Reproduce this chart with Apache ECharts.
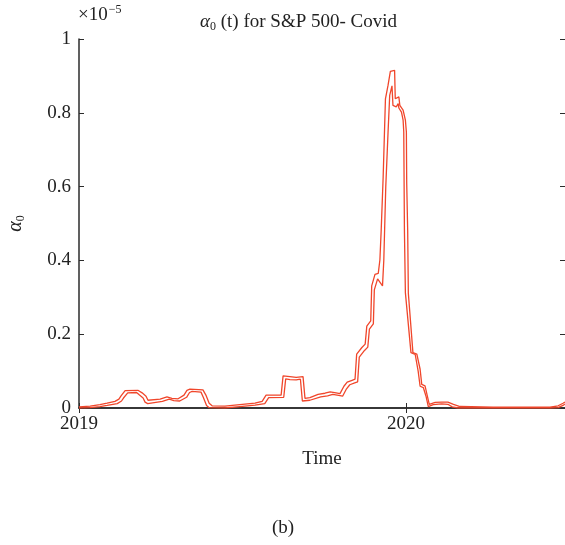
<!DOCTYPE html>
<html><head><meta charset="utf-8">
<script src="https://cdn.jsdelivr.net/npm/echarts@6/dist/echarts.min.js"></script>
<style>html,body{margin:0;padding:0;background:#fff}#c{width:565px;height:545px}</style>
</head><body><div id="c"></div>
<script>
// Outer trace (decimal year, value in units of 1e-5)
const xA = [2019.000, 2019.034, 2019.064, 2019.086, 2019.110, 2019.122, 2019.128, 2019.141, 2019.180, 2019.193, 2019.205, 2019.211, 2019.217, 2019.248, 2019.269, 2019.284, 2019.303, 2019.321, 2019.330, 2019.339, 2019.379, 2019.388, 2019.398, 2019.407, 2019.446, 2019.492, 2019.538, 2019.560, 2019.572, 2019.618, 2019.624, 2019.645, 2019.664, 2019.685, 2019.691, 2019.706, 2019.731, 2019.752, 2019.768, 2019.786, 2019.798, 2019.810, 2019.820, 2019.835, 2019.844, 2019.849, 2019.865, 2019.875, 2019.880, 2019.892, 2019.895, 2019.905, 2019.915, 2019.920, 2019.924, 2019.930, 2019.937, 2019.945, 2019.952, 2019.965, 2019.967, 2019.978, 2019.981, 2019.991, 2019.998, 2020.001, 2020.002, 2020.005, 2020.007, 2020.021, 2020.033, 2020.043, 2020.048, 2020.058, 2020.065, 2020.071, 2020.089, 2020.109, 2020.128, 2020.145, 2020.165, 2020.266, 2020.318, 2020.369, 2020.440, 2020.465, 2020.480, 2020.486];
const yA = [0.003, 0.005, 0.009, 0.013, 0.018, 0.024, 0.032, 0.047, 0.048, 0.041, 0.032, 0.021, 0.018, 0.024, 0.030, 0.026, 0.025, 0.035, 0.048, 0.051, 0.049, 0.035, 0.013, 0.006, 0.005, 0.009, 0.013, 0.018, 0.035, 0.035, 0.087, 0.085, 0.083, 0.085, 0.026, 0.028, 0.037, 0.040, 0.044, 0.041, 0.039, 0.059, 0.070, 0.075, 0.078, 0.146, 0.164, 0.173, 0.222, 0.236, 0.331, 0.362, 0.365, 0.401, 0.482, 0.626, 0.838, 0.875, 0.912, 0.915, 0.838, 0.843, 0.820, 0.807, 0.780, 0.748, 0.610, 0.482, 0.311, 0.150, 0.146, 0.105, 0.064, 0.060, 0.033, 0.010, 0.015, 0.016, 0.016, 0.010, 0.004, 0.002, 0.002, 0.002, 0.002, 0.006, 0.013, 0.016];
// Inner trace
const xB = [2019.000, 2019.034, 2019.064, 2019.086, 2019.117, 2019.130, 2019.136, 2019.149, 2019.176, 2019.185, 2019.196, 2019.202, 2019.210, 2019.255, 2019.276, 2019.290, 2019.308, 2019.329, 2019.338, 2019.346, 2019.373, 2019.380, 2019.390, 2019.398, 2019.446, 2019.492, 2019.538, 2019.568, 2019.580, 2019.626, 2019.632, 2019.645, 2019.664, 2019.677, 2019.683, 2019.706, 2019.739, 2019.760, 2019.776, 2019.794, 2019.806, 2019.818, 2019.828, 2019.843, 2019.852, 2019.857, 2019.873, 2019.883, 2019.888, 2019.900, 2019.903, 2019.913, 2019.918, 2019.928, 2019.932, 2019.938, 2019.945, 2019.950, 2019.957, 2019.960, 2019.970, 2019.976, 2019.978, 2019.986, 2019.991, 2019.993, 2019.995, 2019.998, 2020.015, 2020.028, 2020.037, 2020.043, 2020.053, 2020.061, 2020.068, 2020.083, 2020.109, 2020.128, 2020.141, 2020.159, 2020.266, 2020.318, 2020.369, 2020.440, 2020.465, 2020.480, 2020.486];
const yB = [0.000, 0.001, 0.004, 0.007, 0.012, 0.019, 0.027, 0.041, 0.042, 0.035, 0.027, 0.016, 0.012, 0.018, 0.024, 0.020, 0.019, 0.029, 0.042, 0.045, 0.043, 0.029, 0.007, 0.001, 0.000, 0.004, 0.008, 0.012, 0.028, 0.029, 0.079, 0.077, 0.076, 0.078, 0.019, 0.021, 0.030, 0.033, 0.037, 0.034, 0.032, 0.052, 0.063, 0.068, 0.071, 0.138, 0.156, 0.165, 0.214, 0.228, 0.320, 0.350, 0.352, 0.331, 0.401, 0.600, 0.748, 0.847, 0.873, 0.820, 0.816, 0.825, 0.813, 0.802, 0.780, 0.748, 0.482, 0.312, 0.150, 0.145, 0.100, 0.059, 0.055, 0.032, 0.004, 0.009, 0.011, 0.010, 0.003, 0.000, 0.000, 0.000, 0.000, 0.000, 0.001, 0.007, 0.011];
const xTicks = [2019, 2020];
const yTicks = [0, 0.2, 0.4, 0.6, 0.8, 1];

const FONT = '"Liberation Serif","DejaVu Serif",serif';
const LINE = '#F0462B';
const AX = '#2b2b2b';
const TXT = '#222';
const zip = (xs, ys) => xs.map((x, i) => [x, ys[i]]);

const chart = echarts.init(document.getElementById('c'), null, {renderer: 'canvas'});
const tick = {inside: true, length: 5, lineStyle: {color: AX, width: 1}};
const line = {lineStyle: {color: AX, width: 1.5}};
chart.setOption({
  animation: false,
  backgroundColor: '#fff',
  title: {
    text: '{i|α}{s|0} (t) for S&P 500- Covid',
    left: 195, top: 6,
    textStyle: {
      fontFamily: FONT, fontSize: 19, fontWeight: 'normal', color: TXT,
      rich: {
        i: {fontFamily: FONT, fontSize: 19, fontStyle: 'italic', color: TXT},
        s: {fontFamily: FONT, fontSize: 12, padding: [10, 0, 0, 0], color: TXT}
      }
    }
  },
  grid: {left: 79, top: 39, right: 0, bottom: 137, containLabel: false, outerBoundsMode: 'none'},
  xAxis: [
    {
      type: 'value', min: 2019, max: 2020.486, interval: 1, position: 'bottom',
      axisLine: line, axisTick: tick, splitLine: {show: false},
      axisLabel: {
        formatter: v => xTicks.includes(v) ? String(v) : '',
        fontFamily: FONT, fontSize: 19, color: TXT, margin: 7
      },
      name: 'Time', nameLocation: 'middle', nameGap: 42,
      nameTextStyle: {fontFamily: FONT, fontSize: 19, color: TXT}
    },
    {
      type: 'value', min: 2019, max: 2020.486, interval: 1, position: 'top',
      axisLine: line, axisTick: tick, splitLine: {show: false},
      axisLabel: {show: false}
    }
  ],
  yAxis: [
    {
      type: 'value', min: 0, max: 1, interval: 0.2, position: 'left',
      axisLine: line, axisTick: tick, splitLine: {show: false},
      axisLabel: {
        formatter: v => yTicks.some(t => Math.abs(t - v) < 1e-9) ? String(+v.toFixed(1)) : '',
        fontFamily: FONT, fontSize: 19, color: TXT, margin: 8
      },
      name: '{i|α}{s|0}', nameLocation: 'middle', nameGap: 52, nameRotate: 90,
      nameTextStyle: {
        fontFamily: FONT, fontSize: 19, color: TXT,
        rich: {
          i: {fontFamily: FONT, fontSize: 20, fontStyle: 'italic', color: TXT},
          s: {fontFamily: FONT, fontSize: 12, padding: [10, 0, 0, 0], color: TXT}
        }
      }
    },
    {
      type: 'value', min: 0, max: 1, interval: 0.2, position: 'right',
      axisLine: {show: false}, axisTick: tick, splitLine: {show: false},
      axisLabel: {show: false}
    }
  ],
  graphic: [
    {
      type: 'text', left: 78, top: 4,
      style: {
        text: '{a|×10}{b|−5}',
        rich: {
          a: {fontFamily: FONT, fontSize: 19, fill: TXT},
          b: {fontFamily: FONT, fontSize: 12, padding: [0, 0, 11, 1], fill: TXT}
        }
      }
    },
    {
      type: 'text', left: 272, top: 519,
      style: {text: '(b)', fontFamily: FONT, fontSize: 19, fill: TXT}
    }
  ],
  series: [
    {type: 'line', name: 'outer', data: zip(xA, yA), showSymbol: false, symbol: 'none',
     lineStyle: {color: LINE, width: 1.3}, clip: true, z: 3},
    {type: 'line', name: 'inner', data: zip(xB, yB), showSymbol: false, symbol: 'none',
     lineStyle: {color: LINE, width: 1.3}, clip: true, z: 3}
  ]
});
</script>
</body></html>
